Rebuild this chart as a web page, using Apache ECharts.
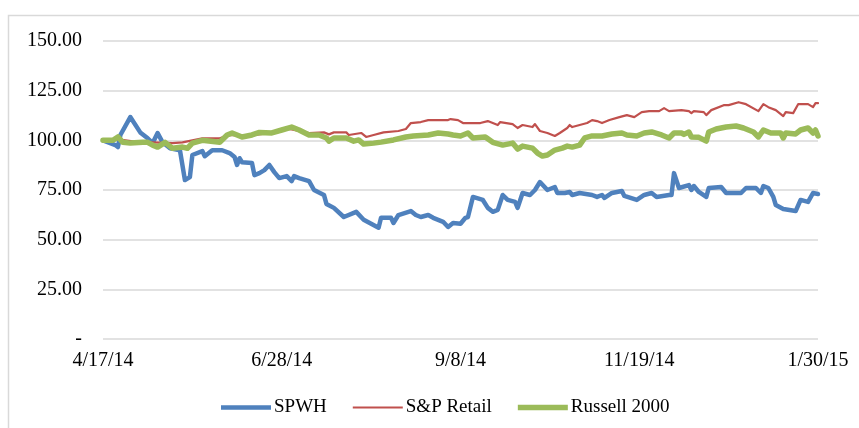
<!DOCTYPE html>
<html>
<head>
<meta charset="utf-8">
<script src="https://cdn.jsdelivr.net/npm/echarts@6/dist/echarts.min.js"></script>
<style>
  html, body { margin: 0; padding: 0; background: #fff; }
  #chart { width: 859px; height: 428px; }
</style>
</head>
<body>
<div id="chart"></div>
<script>
// x = days after 4/17/14, y = indexed value
const startDate = new Date(2014, 3, 17);

const spwh = [
  [0, 100], [5, 97.6], [6, 96.6], [7, 102.7], [11, 111.7], [15, 104], [18, 101], [20, 98.6],
  [22, 103.7], [24, 99], [27, 96], [31, 95], [33, 80], [35, 81.5], [36, 92.6], [40, 94.6],
  [41, 92], [44, 95], [48, 95], [51, 93.6], [53, 91.6], [54, 87.6], [55, 91], [56, 89],
  [60, 88.6], [61, 82.5], [63, 83.5], [65, 85], [67, 87.6], [69, 84], [71, 81], [74, 82],
  [76, 79.5], [77, 82], [79, 81], [83, 79.5], [85, 75], [89, 72.5], [90, 68], [93, 66],
  [97, 61.4], [102, 64], [105, 60], [111, 56], [112, 61], [116, 61], [117, 58.4], [119, 62.4],
  [124, 64.4], [126, 62.4], [128, 61.4], [131, 62.4], [133, 61], [137, 59], [139, 56.4], [141, 58.4],
  [144, 58], [146, 61], [147, 61.4], [149, 71.5], [153, 70], [155, 66], [157, 64], [159, 65],
  [161, 72.5], [163, 70], [166, 69], [167, 66], [169, 73.5], [172, 72.5], [174, 75], [176, 79],
  [179, 75], [182, 76.5], [183, 73.5], [186, 73.5], [188, 74], [189, 72.5], [192, 73.5], [197, 72.5],
  [199, 71.5], [201, 72.5], [202, 71], [205, 73.5], [209, 74.5], [210, 72], [215, 70], [218, 72.5],
  [221, 73.5], [223, 71.5], [228, 72.5], [229, 72.5], [230, 83.5], [232, 76], [236, 77.5], [237, 75],
  [238, 77], [240, 74], [243, 71.5], [244, 76], [249, 76.5], [251, 73.5], [257, 73.5], [259, 76],
  [263, 76], [265, 73.5], [266, 77], [268, 76], [270, 71.5], [271, 67.4], [274, 65.4], [279, 64.4],
  [281, 70], [284, 69], [286, 73.5], [288, 73]
];

const spRetail = [
  [0, 100], [6, 100.5], [12, 99.5], [20, 99], [28, 98.6], [32, 99], [40, 101], [47, 101],
  [51, 102.7], [60, 102.5], [67, 103.7], [75, 105.7], [83, 103.7], [89, 104], [91, 103], [93, 104],
  [98, 104], [99, 102.7], [104, 103.7], [106, 101.7], [109, 102.7], [113, 104], [119, 104.7], [122, 105.7],
  [124, 108.7], [128, 109.2], [131, 110.2], [139, 110.2], [140, 110.7], [143, 110.2], [145, 108.7], [148, 108.7],
  [152, 108.7], [155, 109.7], [159, 107.7], [160, 109.2], [165, 108.2], [167, 106.2], [169, 107.7], [173, 106.7],
  [174, 108.2], [176, 104.7], [179, 103.7], [182, 102.2], [184, 103.7], [187, 106.2], [188, 107.7], [189, 106.7],
  [192, 107.7], [195, 108.7], [197, 110.2], [199, 109.7], [201, 108.7], [204, 110.2], [208, 111.7], [211, 112.7],
  [214, 111.7], [217, 114.2], [220, 114.7], [224, 114.7], [226, 116.2], [228, 114.7], [233, 115.2], [236, 114.7],
  [237, 113.7], [238, 114.7], [242, 114.2], [243, 112.7], [245, 115.2], [250, 117.7], [252, 117.7], [256, 119.2],
  [259, 118.2], [264, 114.7], [266, 118.2], [268, 116.7], [271, 115.2], [274, 112.2], [275, 114.2], [278, 113.7],
  [280, 118.2], [284, 118.2], [286, 116.7], [287, 118.7], [288, 118.7]
];

const russell = [
  [0, 100], [4, 100], [6, 101.7], [8, 99], [11, 98.6], [16, 99], [18, 99], [20, 97.6],
  [22, 96.6], [25, 99], [28, 96], [32, 96.6], [34, 96], [36, 98.6], [40, 100], [47, 99],
  [50, 102.7], [52, 103.7], [56, 101.7], [60, 102.7], [63, 104], [68, 103.7], [72, 105.2], [76, 106.7],
  [79, 105.2], [83, 102.7], [87, 102.7], [90, 101.2], [91, 99.6], [93, 101.2], [98, 101.2], [101, 99.6],
  [103, 100.2], [105, 98.1], [109, 98.6], [112, 99.1], [117, 100.2], [122, 101.7], [125, 102.2], [131, 102.7],
  [135, 103.7], [139, 103.2], [141, 102.7], [144, 102.2], [147, 103.7], [149, 101.2], [154, 101.7], [157, 99],
  [161, 97.6], [165, 98.6], [167, 95.6], [169, 97.1], [173, 96.1], [175, 93.6], [177, 92.1], [179, 92.6],
  [182, 95.1], [185, 96.1], [187, 97.1], [189, 96.6], [192, 97.6], [194, 101.2], [197, 102.2], [201, 102.2],
  [205, 103.2], [209, 103.7], [211, 102.7], [215, 102.2], [218, 103.7], [221, 104.2], [225, 102.7], [228, 101.2],
  [230, 103.7], [233, 103.7], [234, 103], [236, 104.2], [237, 101.7], [240, 101.5], [243, 99.6], [244, 104.2],
  [247, 105.7], [251, 106.7], [255, 107.2], [258, 106.2], [262, 104.2], [264, 101.7], [266, 105.2], [269, 103.7],
  [273, 103.7], [274, 101.2], [275, 103.7], [279, 103.2], [281, 105.2], [284, 106.2], [286, 103.7], [287, 105.2],
  [288, 102.2]
];

function dayLabel(d) {
  const dt = new Date(startDate.getTime() + d * 86400000);
  return (dt.getMonth() + 1) + '/' + dt.getDate() + '/' + String(dt.getFullYear()).slice(2);
}

const chart = echarts.init(document.getElementById('chart'), null, { renderer: 'canvas' });
const font = '"Liberation Serif", "Times New Roman", serif';

function lineSeries(name, data, color, width) {
  return {
    name: name,
    type: 'line',
    data: data,
    symbol: 'none',
    lineStyle: { color: color, width: width, join: 'round', cap: 'round' },
    itemStyle: { color: color }
  };
}

// legend swatch: a bar of the given thickness inside a 6px tall box
function swatch(h) {
  const top = (6 - h) / 2;
  return 'path://M0,0L0,6ZM0,' + top + 'L50,' + top + 'L50,' + (top + h) + 'L0,' + (top + h) + 'Z';
}

chart.setOption({
  animation: false,
  textStyle: { fontFamily: font },
  graphic: [{
    type: 'rect',
    shape: { x: 8.5, y: 15.5, width: 880, height: 440 },
    style: { fill: 'none', stroke: '#d9d9d9', lineWidth: 1.5 },
    silent: true
  }],
  grid: { left: 103, right: 41, top: 41, bottom: 89 },
  legend: {
    top: 393,
    left: 216,
    itemWidth: 50,
    itemHeight: 6,
    itemGap: 26,
    textStyle: { fontFamily: font, fontSize: 19, color: '#000', padding: [0, 0, 0, -2] },
    data: [
      { name: 'SPWH', icon: swatch(4.5), itemStyle: { color: '#4f81bd' } },
      { name: 'S&P Retail', icon: swatch(2.2), itemStyle: { color: '#c0504d' } },
      { name: 'Russell 2000', icon: swatch(5.5), itemStyle: { color: '#9bbb59' } }
    ]
  },
  xAxis: {
    type: 'value',
    min: 0,
    max: 288,
    interval: 72,
    axisLine: { show: false },
    axisTick: { show: false },
    splitLine: { show: false },
    axisLabel: {
      margin: 12,
      fontFamily: font,
      fontSize: 20,
      color: '#000',
      formatter: v => dayLabel(v)
    }
  },
  yAxis: {
    type: 'value',
    min: 0,
    max: 150,
    interval: 25,
    axisLine: { show: false },
    axisTick: { show: false },
    splitLine: { lineStyle: { color: '#d9d9d9', width: 1.5 } },
    axisLabel: {
      margin: 21,
      fontFamily: font,
      fontSize: 20,
      color: '#000',
      formatter: v => v === 0 ? '-' : v.toFixed(2)
    }
  },
  series: [
    lineSeries('SPWH', spwh, '#4f81bd', 4.5),
    lineSeries('S&P Retail', spRetail, '#c0504d', 2.2),
    lineSeries('Russell 2000', russell, '#9bbb59', 5.5)
  ]
});
</script>
</body>
</html>
